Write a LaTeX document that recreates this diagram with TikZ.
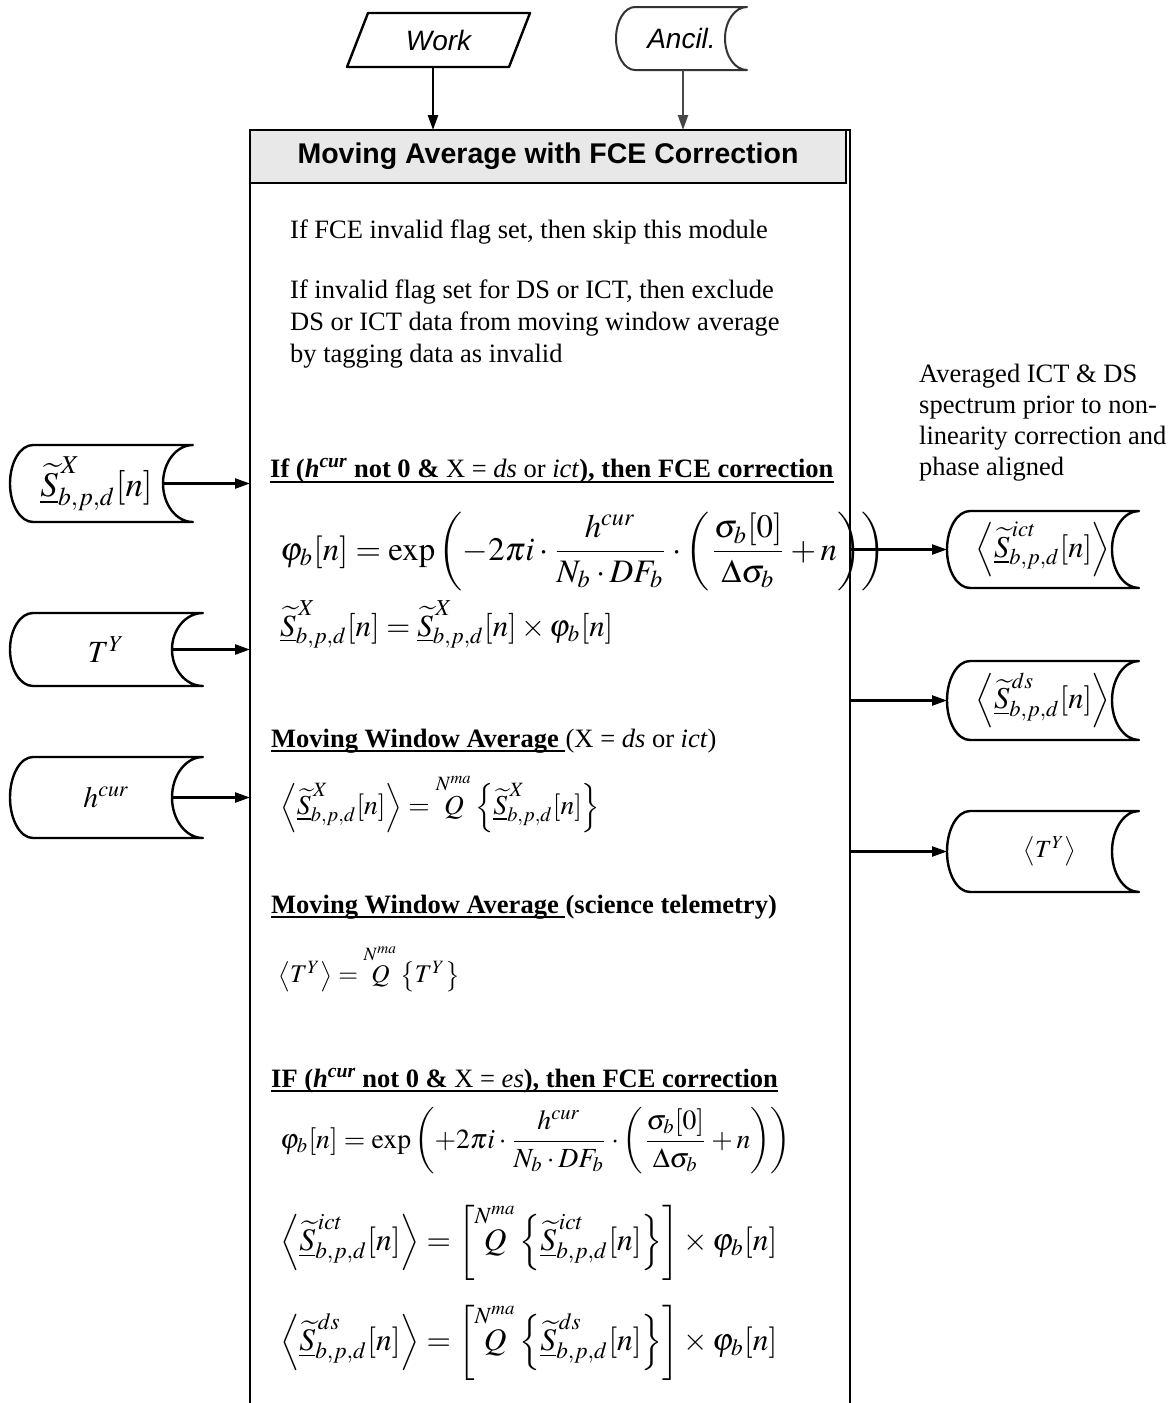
\documentclass[tikz,border=0pt]{standalone}
\usepackage{amsmath}
\usepackage{mathptmx}
\usepackage[no-math]{fontspec}
\setmainfont{Liberation Serif}
\newfontfamily\arialf{Liberation Sans}
\usetikzlibrary{arrows.meta,calc}
\newcommand{\St}[1]{\underline{\widetilde{S}}^{\,#1}_{b,p,d}}
\newcommand{\Qop}{\overset{N^{ma}}{Q}}
% stored-data outline: [opts]{node}{left bulge}{right concave}{half height}
\newcommand{\storedpath}[5][]{%
  \draw[shp,#1] ([xshift=#3]#2.north west) -- (#2.north east)
    arc[start angle=90,end angle=270,x radius=#4,y radius=#5]
    -- ([xshift=#3]#2.south west)
    arc[start angle=270,end angle=90,x radius=#3,y radius=#5] -- cycle;}
\begin{document}
\begin{tikzpicture}[x=1pt,y=-1pt,
  shp/.style={line width=2.4pt,line join=round},
  arr/.style={line width=2.4pt,-{Triangle[length=15pt,width=10pt]}},
  ionode/.style={inner sep=0pt,outer sep=0pt},
  txt/.style={inner sep=0pt,anchor=base west,font=\fontsize{26.5}{31}\selectfont},
  hd/.style={inner sep=0pt,anchor=base west,font=\fontsize{26.5}{31}\selectfont},
  ul/.style={line width=2.8pt},
  fm/.style={inner sep=0pt,anchor=west},
  fmb/.style={inner sep=0pt,anchor=base west}]
\fill[white] (0,0) rectangle (1172,1403);
\useasboundingbox (0,0) rectangle (1172,1403);

% ---------- top inputs ----------
\node[ionode,minimum width=183pt,minimum height=54pt,
      font=\arialf\itshape\fontsize{28}{30}\selectfont] (work) at (438.5,40) {Work};
\draw[shp] ([xshift=21pt]work.north west) -- (work.north east)
  -- ([xshift=-21pt]work.south east) -- (work.south west) -- cycle;

\node[ionode,minimum width=131pt,minimum height=63pt,
      font=\arialf\itshape\fontsize{28}{30}\selectfont] (ancil) at (681.5,38.5) {Ancil.};
\storedpath[draw=black!80,line width=2pt]{ancil}{19pt}{22pt}{31.5pt}

% ---------- main box ----------
\node[ionode,minimum width=600pt,minimum height=1275pt] (main) at (550,767.5) {};
\draw[line width=2.4pt] (main.south west) -- (main.north west) -- (main.north east) -- (main.south east);
\node[draw,line width=1.6pt,fill=black!9,inner sep=0pt,minimum width=596pt,minimum height=53pt,
      font=\arialf\bfseries\fontsize{28.5}{30}\selectfont] (title) at (548,156.5)
      {Moving Average with FCE Correction};

\draw[arr] ([xshift=-5.5pt]work.south) -- ([xshift=-5.5pt]work.south |- main.north);
\draw[arr,draw=black!72,fill=black!72] ([xshift=1.5pt]ancil.south) -- ([xshift=1.5pt]ancil.south |- main.north);

% ---------- left inputs ----------
\node[ionode,minimum width=183pt,minimum height=77pt] (inS) at (101.5,483.5)
  {\resizebox{112pt}{!}{$\St{X}[n]$}\hspace*{10pt}};
\storedpath{inS}{23pt}{30pt}{38.5pt}
\node[ionode,minimum width=193pt,minimum height=73pt] (inT) at (106.5,649.5)
  {\resizebox{37pt}{!}{$T^{Y}$}};
\storedpath{inT}{23pt}{31pt}{36.5pt}
\node[ionode,minimum width=193pt,minimum height=81pt] (inH) at (106.5,797.5)
  {\resizebox{46pt}{!}{$h^{cur}$}};
\storedpath{inH}{23pt}{31pt}{40.5pt}

\draw[arr] ([xshift=-30pt]inS.east) -- (inS.east -| main.west);
\draw[arr] ([xshift=-31pt]inT.east) -- (inT.east -| main.west);
\draw[arr] ([xshift=-31pt]inH.east) -- (inH.east -| main.west);

% ---------- right outputs ----------
\node[ionode,minimum width=192pt,minimum height=77pt] (oI) at (1043,549.5)
  {\resizebox{135pt}{!}{$\left\langle\St{ict}[n]\right\rangle$}};
\storedpath{oI}{23pt}{27pt}{38.5pt}
\node[ionode,minimum width=192pt,minimum height=79pt] (oD) at (1043,700.5)
  {\resizebox{135pt}{!}{$\left\langle\St{ds}[n]\right\rangle$}};
\storedpath{oD}{23pt}{27pt}{39.5pt}
\node[ionode,minimum width=192pt,minimum height=81pt] (oT) at (1043,851.5)
  {\hspace*{14pt}\resizebox{53pt}{!}{$\left\langle T^{Y}\right\rangle$}};
\storedpath{oT}{23pt}{27pt}{40.5pt}

\draw[arr] (oI.west -| main.east) -- (oI.west);
\draw[arr] (oD.west -| main.east) -- (oD.west);
\draw[arr] (oT.west -| main.east) -- (oT.west);

\node[txt] (a1) at (919,382) {Averaged ICT \& DS};
\node[txt] (a2) at (919,413) {spectrum prior to non-};
\node[txt] (a3) at (919,444) {linearity correction and};
\node[txt] (a4) at (919,475) {phase aligned};

% ---------- box contents ----------
\node[txt] (p1) at (290,238) {If FCE invalid flag set, then skip this module};
\node[txt] (p2) at (290,298) {If invalid flag set for DS or ICT, then exclude};
\node[txt] (p3) at (290,330) {DS or ICT data from moving window average};
\node[txt] (p4) at (290,362) {by tagging data as invalid};

\node[hd] (h1) at (270,477) {\textbf{If (\textit{h}\textsuperscript{\textit{cur}} not 0 \& }X = \textit{ds} or \textit{ict}\textbf{), then FCE correction}};
\draw[ul] ([yshift=-5pt]h1.base west) -- ([yshift=-5pt]h1.base east);

\node[fmb] (f1) at (280,560) {\resizebox{605pt}{!}{$\varphi_b[n]=\exp\left(-2\pi i\cdot\dfrac{h^{cur}}{N_b\cdot DF_b}\cdot\left(\dfrac{\sigma_b[0]}{\Delta\sigma_b}+n\right)\right)$}};
\node[fmb] (f2) at (280,636) {\resizebox{333pt}{!}{$\St{X}[n]=\St{X}[n]\times\varphi_b[n]$}};

\node[hd] (m1) at (271,747) {\bfseries Moving Window Average};
\node[hd] (m1b) at ([xshift=6.5pt]m1.base east) {(X = \textit{ds} or \textit{ict})};
\draw[ul] ([yshift=-4pt]m1.base west) -- ([xshift=6.5pt,yshift=-4pt]m1.base east);
\node[fm] (f3) at (280,803) {\resizebox{320pt}{!}{$\left\langle\St{X}[n]\right\rangle=\Qop\left\{\St{X}[n]\right\}$}};

\node[hd] (m2) at (271,913) {\bfseries Moving Window Average};
\node[hd] (m2b) at ([xshift=6.5pt]m2.base east) {\bfseries (science telemetry)};
\draw[ul] ([yshift=-4pt]m2.base west) -- ([xshift=6.5pt,yshift=-4pt]m2.base east);
\node[fm] (f4) at (278,968) {\resizebox{182pt}{!}{$\left\langle T^{Y}\right\rangle=\Qop\left\{T^{Y}\right\}$}};

\node[hd] (h2) at (271,1087) {\textbf{IF (\textit{h}\textsuperscript{\textit{cur}} not 0 \& }X = \textit{es}\textbf{), then FCE correction}};
\draw[ul] ([yshift=-4pt]h2.base west) -- ([yshift=-4pt]h2.base east);

\node[fmb] (f5) at (280,1148) {\resizebox{511pt}{!}{$\varphi_b[n]=\exp\left(+2\pi i\cdot\dfrac{h^{cur}}{N_b\cdot DF_b}\cdot\left(\dfrac{\sigma_b[0]}{\Delta\sigma_b}+n\right)\right)$}};
\node[fm] (f6) at (280,1242) {\resizebox{497pt}{!}{$\left\langle\St{ict}[n]\right\rangle=\left[\Qop\left\{\St{ict}[n]\right\}\right]\times\varphi_b[n]$}};
\node[fm] (f7) at (280,1342) {\resizebox{497pt}{!}{$\left\langle\St{ds}[n]\right\rangle=\left[\Qop\left\{\St{ds}[n]\right\}\right]\times\varphi_b[n]$}};
\end{tikzpicture}
\end{document}
